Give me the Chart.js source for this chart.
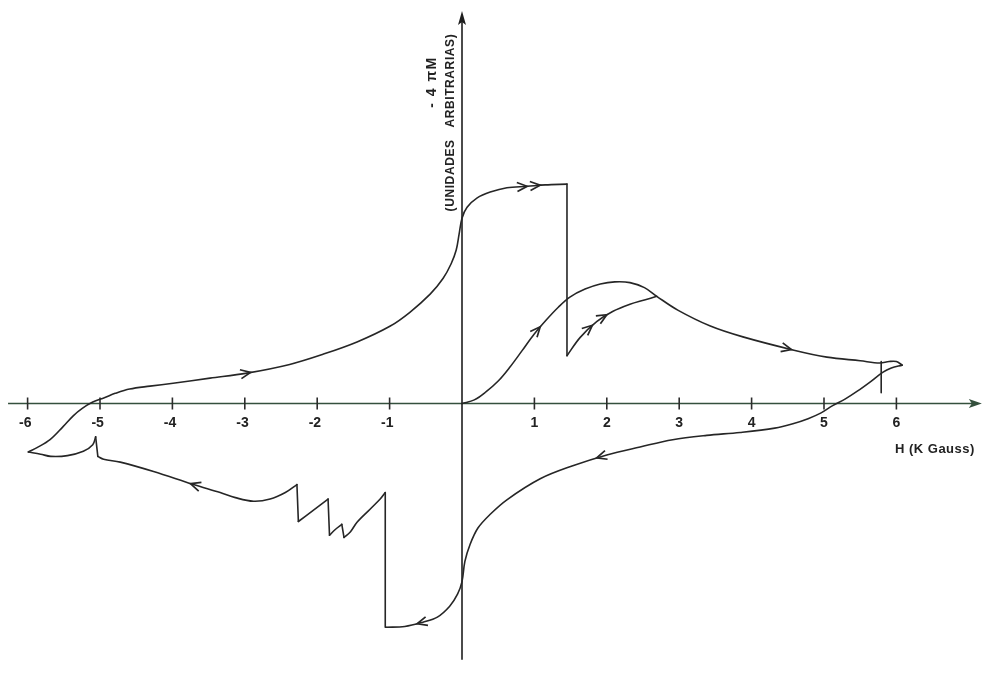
<!DOCTYPE html>
<html>
<head>
<meta charset="utf-8">
<script src="https://cdn.jsdelivr.net/npm/chart.js@4.4.1/dist/chart.umd.min.js"></script>
<style>
  html, body { margin: 0; padding: 0; background: #ffffff; }
  canvas { display: block; }
</style>
</head>
<body>
<canvas id="c" width="984" height="687"></canvas>
<script>
// ---------- DATA (H in kGauss, -4πM in arbitrary units) ----------
const H_TICKS = [-6, -5, -4, -3, -2, -1, 1, 2, 3, 4, 5, 6];
const TICK_LABELS = ['-6', '-5', '-4', '-3', '-2', '-1', '1', '2', '3', '4', '5', '6'];

// virgin curve (from origin up to 6 kG)
const virgenH = [0, 0.17, 0.33, 0.50, 0.66, 0.83, 0.99, 1.16, 1.33, 1.49, 1.70, 1.91, 2.11, 2.32, 2.52, 2.69, 2.98, 3.43, 3.88, 4.57, 5.04, 5.50, 5.77, 5.90, 6.00, 6.08];
const virgenM = [0, 0.05, 0.16, 0.31, 0.50, 0.73, 0.95, 1.15, 1.33, 1.47, 1.58, 1.65, 1.68, 1.67, 1.60, 1.48, 1.29, 1.07, 0.92, 0.74, 0.64, 0.59, 0.56, 0.58, 0.58, 0.53];

// increasing field branch (-6 -> +6), before the flux jump
const subidaAH = [-5.99, -5.87, -5.69, -5.51, -5.37, -5.25, -5.10, -4.94, -4.79, -4.59, -4.31, -3.99, -3.48, -2.97, -2.38, -1.92, -1.45, -0.99, -0.72, -0.44, -0.26, -0.15, -0.08, -0.04, 0.00, 0.07, 0.21, 0.39, 0.62, 0.90, 1.15, 1.45];
const subidaAM = [-0.67, -0.61, -0.50, -0.32, -0.17, -0.07, 0.02, 0.08, 0.14, 0.20, 0.24, 0.28, 0.35, 0.42, 0.54, 0.68, 0.85, 1.07, 1.26, 1.51, 1.73, 1.93, 2.12, 2.34, 2.56, 2.71, 2.84, 2.92, 2.98, 3.00, 3.02, 3.03];
// after the flux jump, until it joins the virgin curve
const subidaBH = [1.45, 1.63, 1.86, 2.08, 2.32, 2.52, 2.69];
const subidaBM = [0.66, 0.91, 1.13, 1.27, 1.37, 1.43, 1.48];

// decreasing field branch (+6 -> -6), split at each flux jump
const bajadaAH = [6.08, 5.93, 5.81, 5.64, 5.46, 5.29, 5.12, 4.96, 4.78, 4.57, 4.32, 3.84, 3.38, 2.91, 2.46, 2.00, 1.53, 1.08, 0.62, 0.39, 0.22, 0.11, 0.04, 0.00, -0.06, -0.17, -0.34, -0.54, -0.79, -1.05];
const bajadaAM = [0.53, 0.49, 0.43, 0.30, 0.17, 0.06, -0.03, -0.13, -0.21, -0.28, -0.34, -0.40, -0.44, -0.50, -0.60, -0.71, -0.86, -1.04, -1.33, -1.53, -1.72, -1.95, -2.18, -2.46, -2.63, -2.80, -2.95, -3.02, -3.08, -3.09];
const bajadaBH = [-1.06, -1.13, -1.27, -1.45, -1.54, -1.63];
const bajadaBM = [-1.23, -1.32, -1.46, -1.64, -1.77, -1.85];
const bajadaCH = [-1.66, -1.75, -1.83];
const bajadaCM = [-1.67, -1.74, -1.82];
const bajadaDH = [-1.85, -2.06, -2.26];
const bajadaDM = [-1.32, -1.48, -1.63];
const bajadaEH = [-2.28, -2.44, -2.65, -2.88, -3.13, -3.34, -3.71, -4.26, -4.72, -4.95, -5.03];
const bajadaEM = [-1.12, -1.23, -1.32, -1.35, -1.30, -1.23, -1.12, -0.94, -0.81, -0.77, -0.73];
const bajadaFH = [-5.06, -5.10, -5.23, -5.45, -5.68, -5.82, -5.99];
const bajadaFM = [-0.46, -0.57, -0.66, -0.72, -0.73, -0.70, -0.67];

// small vertical mark near the maximum field
const marcaH = [5.79, 5.79];
const marcaM = [0.58, 0.15];

// arrowheads: which curve, and H where the arrow tip sits
const ARROWS = [
  ['virgen', 1.08], ['virgen', 4.55],
  ['subidaA', -2.92], ['subidaA', 0.90], ['subidaA', 1.08],
  ['subidaB', 1.80], ['subidaB', 2.00],
  ['bajadaA', 1.86], ['bajadaA', -0.62],
  ['bajadaE', -3.75]
];

// ---------- BUILD DATASETS ----------
const INK = '#262626';
function pts(h, m) { return h.map((v, i) => ({ x: v, y: m[i] })); }
function smooth(label, h, m) {
  return { label, data: pts(h, m), showLine: true, tension: 0.35, borderColor: INK, borderWidth: 1.6, pointRadius: 0, fill: false };
}
function straight(label, data) {
  return { label, data, showLine: true, tension: 0, borderColor: INK, borderWidth: 1.6, pointRadius: 0, fill: false };
}
const pieces = {
  virgen: [virgenH, virgenM],
  subidaA: [subidaAH, subidaAM], subidaB: [subidaBH, subidaBM],
  bajadaA: [bajadaAH, bajadaAM], bajadaB: [bajadaBH, bajadaBM], bajadaC: [bajadaCH, bajadaCM],
  bajadaD: [bajadaDH, bajadaDM], bajadaE: [bajadaEH, bajadaEM], bajadaF: [bajadaFH, bajadaFM]
};
const datasets = [];
for (const k in pieces) datasets.push(smooth(k, pieces[k][0], pieces[k][1]));
// flux jumps: join the end of one piece to the start of the next one
const chains = [['subidaA', 'subidaB'], ['bajadaA', 'bajadaB', 'bajadaC', 'bajadaD', 'bajadaE', 'bajadaF']];
chains.forEach(ch => {
  for (let i = 0; i < ch.length - 1; i++) {
    const a = pieces[ch[i]], b = pieces[ch[i + 1]];
    const n = a[0].length - 1;
    datasets.push(straight('salto-' + ch[i], [{ x: a[0][n], y: a[1][n] }, { x: b[0][0], y: b[1][0] }]));
  }
});
datasets.push(straight('marca', pts(marcaH, marcaM)));

// ---------- PLUGINS ----------
const FONT = '"Liberation Sans", Arial, sans-serif';
const axesPlugin = {
  id: 'axesPlugin',
  beforeDatasetsDraw(chart) {
    const ctx = chart.ctx, xs = chart.scales.x, ys = chart.scales.y;
    const x0 = xs.getPixelForValue(0), y0 = ys.getPixelForValue(0);
    ctx.save();
    // horizontal axis
    const xl = xs.getPixelForValue(-6.27), xr = xs.getPixelForValue(7.18);
    ctx.strokeStyle = '#34503d'; ctx.fillStyle = '#34503d'; ctx.lineWidth = 1.6;
    ctx.beginPath(); ctx.moveTo(xl, y0); ctx.lineTo(xr - 4, y0); ctx.stroke();
    ctx.beginPath(); ctx.moveTo(xr, y0); ctx.lineTo(xr - 13, y0 - 4.5); ctx.lineTo(xr - 10, y0); ctx.lineTo(xr - 13, y0 + 4.5); ctx.closePath(); ctx.fill();
    // ticks
    ctx.strokeStyle = '#2c2c2c'; ctx.lineWidth = 1.6;
    H_TICKS.forEach(h => {
      const px = xs.getPixelForValue(h);
      ctx.beginPath(); ctx.moveTo(px, y0 - 6); ctx.lineTo(px, y0 + 6); ctx.stroke();
    });
    // tick labels (digit centred on the tick)
    ctx.fillStyle = '#222'; ctx.font = 'bold 14px ' + FONT;
    ctx.textBaseline = 'middle'; ctx.textAlign = 'right';
    H_TICKS.forEach((h, i) => {
      const px = xs.getPixelForValue(h);
      const lab = TICK_LABELS[i];
      const dw = ctx.measureText(lab.replace('-', '')).width;
      ctx.fillText(lab, px + dw / 2, y0 + 20);
    });
    // vertical axis
    const yb = ys.getPixelForValue(-3.54), yt = ys.getPixelForValue(5.42);
    ctx.strokeStyle = '#1e1e1e'; ctx.fillStyle = '#1e1e1e'; ctx.lineWidth = 1.6;
    ctx.beginPath(); ctx.moveTo(x0, yb); ctx.lineTo(x0, yt + 4); ctx.stroke();
    ctx.beginPath(); ctx.moveTo(x0, yt); ctx.lineTo(x0 - 4, yt + 14); ctx.lineTo(x0, yt + 11); ctx.lineTo(x0 + 4, yt + 14); ctx.closePath(); ctx.fill();
    // axis titles
    ctx.fillStyle = '#222';
    ctx.textAlign = 'left';
    ctx.font = 'bold 13px ' + FONT;
    if ('letterSpacing' in ctx) ctx.letterSpacing = '0.5px';
    ctx.fillText('H (K Gauss)', xs.getPixelForValue(5.98), y0 + 46);
    if ('letterSpacing' in ctx) ctx.letterSpacing = '0px';
    ctx.textAlign = 'center';
    ctx.save();
    ctx.translate(x0 - 30, ys.getPixelForValue(4.44));
    ctx.rotate(-Math.PI / 2);
    ctx.font = 'bold 14px ' + FONT;
    if ('letterSpacing' in ctx) ctx.letterSpacing = '1.5px';
    ctx.fillText('- 4 \u03C0M', 0, 0);
    ctx.restore();
    ctx.save();
    ctx.translate(x0 - 11, ys.getPixelForValue(3.88));
    ctx.rotate(-Math.PI / 2);
    ctx.font = 'bold 12px ' + FONT;
    if ('letterSpacing' in ctx) ctx.letterSpacing = '0.6px';
    ctx.fillText('(UNIDADES   ARBITRARIAS)', 0, 0);
    ctx.restore();
    ctx.restore();
  }
};

const arrowPlugin = {
  id: 'arrowPlugin',
  afterDatasetsDraw(chart) {
    const ctx = chart.ctx, xs = chart.scales.x;
    ctx.save();
    ctx.strokeStyle = INK; ctx.lineWidth = 1.7; ctx.lineJoin = 'miter';
    ARROWS.forEach(([name, h]) => {
      const di = chart.data.datasets.findIndex(d => d.label === name);
      if (di < 0) return;
      const P = chart.getDatasetMeta(di).data;
      const tx = xs.getPixelForValue(h);
      for (let i = 0; i < P.length - 1; i++) {
        const p = P[i], q = P[i + 1];
        const c1x = p.cp2x ?? p.x, c1y = p.cp2y ?? p.y, c2x = q.cp1x ?? q.x, c2y = q.cp1y ?? q.y;
        const bez = t => {
          const u = 1 - t;
          return [u*u*u*p.x + 3*u*u*t*c1x + 3*u*t*t*c2x + t*t*t*q.x,
                  u*u*u*p.y + 3*u*u*t*c1y + 3*u*t*t*c2y + t*t*t*q.y];
        };
        let prev = bez(0), found = null;
        for (let s = 1; s <= 60; s++) {
          const cur = bez(s / 60);
          if ((prev[0] - tx) * (cur[0] - tx) <= 0 && prev[0] !== cur[0]) {
            const f = (tx - prev[0]) / (cur[0] - prev[0]);
            found = { x: tx, y: prev[1] + f * (cur[1] - prev[1]), dx: cur[0] - prev[0], dy: cur[1] - prev[1] };
            break;
          }
          prev = cur;
        }
        if (found) {
          const L = Math.hypot(found.dx, found.dy);
          const ux = found.dx / L, uy = found.dy / L;
          const a = 0.42, len = 11;
          const bx = -ux, by = -uy;
          const r1 = [bx * Math.cos(a) - by * Math.sin(a), bx * Math.sin(a) + by * Math.cos(a)];
          const r2 = [bx * Math.cos(-a) - by * Math.sin(-a), bx * Math.sin(-a) + by * Math.cos(-a)];
          ctx.beginPath();
          ctx.moveTo(found.x + r1[0] * len, found.y + r1[1] * len);
          ctx.lineTo(found.x, found.y);
          ctx.lineTo(found.x + r2[0] * len, found.y + r2[1] * len);
          ctx.stroke();
          break;
        }
      }
    });
    ctx.restore();
  }
};

// ---------- CHART ----------
const PX_PER_UNIT = 72.4;
new Chart(document.getElementById('c'), {
  type: 'scatter',
  data: { datasets },
  options: {
    responsive: false,
    animation: false,
    devicePixelRatio: 1,
    layout: { padding: 0 },
    plugins: { legend: { display: false }, tooltip: { enabled: false }, title: { display: false } },
    scales: {
      x: { type: 'linear', display: false, min: -462 / PX_PER_UNIT, max: (984 - 462) / PX_PER_UNIT },
      y: { type: 'linear', display: false, min: -(687 - 403.5) / PX_PER_UNIT, max: 403.5 / PX_PER_UNIT }
    },
    elements: { line: { capBezierPoints: true, borderCapStyle: 'round', borderJoinStyle: 'round' } }
  },
  plugins: [axesPlugin, arrowPlugin]
});
</script>
</body>
</html>
